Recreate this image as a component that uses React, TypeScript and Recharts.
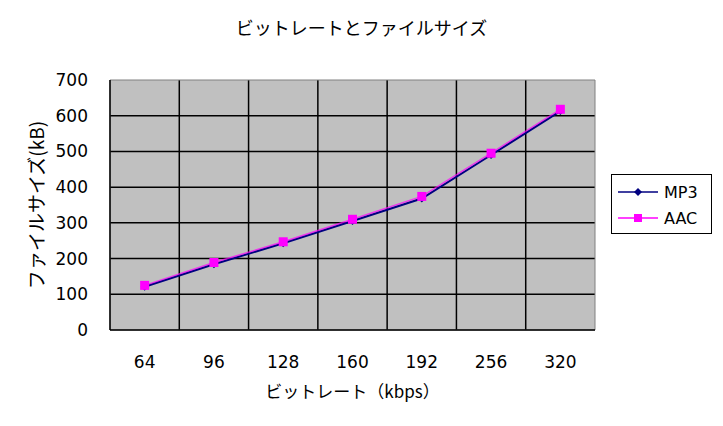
import React from "react";
import {
  LineChart,
  Line,
  XAxis,
  YAxis,
  CartesianGrid,
  ReferenceArea,
} from "recharts";

const bitrates = ["64", "96", "128", "160", "192", "256", "320"];
const mp3Sizes = [121, 184, 243, 305, 368, 490, 613];
const aacSizes = [125, 189, 247, 310, 374, 495, 618];
const yTicks = [0, 100, 200, 300, 400, 500, 600, 700];

const data = bitrates.map((label, i) => ({
  idx: i,
  label,
  mp3: mp3Sizes[i],
  aac: aacSizes[i],
}));

const jp = '"Noto Sans CJK JP", "DejaVu Sans", sans-serif';
const num = '"DejaVu Sans", sans-serif';

const MP3_COLOR = "#000080";
const AAC_COLOR = "#FF00FF";

const Diamond = (props: any) => {
  const { cx, cy } = props;
  if (cx == null || cy == null) return null;
  const r = 4;
  return (
    <path
      d={`M${cx},${cy - r} L${cx + r},${cy} L${cx},${cy + r} L${cx - r},${cy} Z`}
      fill={MP3_COLOR}
    />
  );
};

const Square = (props: any) => {
  const { cx, cy } = props;
  if (cx == null || cy == null) return null;
  return <rect x={cx - 4.5} y={cy - 4.5} width={9} height={9} fill={AAC_COLOR} />;
};

const LegendBox = () => (
  <div
    style={{
      position: "absolute",
      left: 611,
      top: 174,
      border: "1px solid #000",
      background: "#fff",
      width: 101,
      height: 60,
      boxSizing: "border-box",
      padding: "4px 0 0 6px",
      fontFamily: num,
      fontSize: 16,
      color: "#000",
    }}
  >
    {[
      { name: "MP3", color: MP3_COLOR, shape: "d" },
      { name: "AAC", color: AAC_COLOR, shape: "s" },
    ].map((it) => (
      <div key={it.name} style={{ display: "flex", alignItems: "center", height: 26 }}>
        <svg width={42} height={12}>
          <line x1={0} y1={6} x2={40} y2={6} stroke={it.color} strokeWidth={1.5} />
          {it.shape === "d" ? (
            <path d="M20,2 L24,6 L20,10 L16,6 Z" fill={it.color} />
          ) : (
            <rect x={16} y={2} width={8} height={8} fill={it.color} />
          )}
        </svg>
        <span style={{ marginLeft: 4 }}>{it.name}</span>
      </div>
    ))}
  </div>
);

export default function App() {
  return (
    <div style={{ position: "absolute", left: 0, top: 0, width: 723, height: 426, background: "#fff" }}>
      <div
        style={{
          position: "absolute",
          top: 14,
          left: 0,
          width: 723,
          textAlign: "center",
          fontFamily: jp,
          fontSize: 18,
          color: "#000",
          zIndex: 1,
        }}
      >
        ビットレートとファイルサイズ
      </div>
      <LineChart
        width={723}
        height={426}
        data={data}
        margin={{ top: 80, right: 128, bottom: 0, left: 0 }}
      >
        <CartesianGrid
          fill="#C0C0C0"
          stroke="#000"
          strokeWidth={1.5}
          horizontalValues={[100, 200, 300, 400, 500, 600]}
          verticalValues={[0.5, 1.5, 2.5, 3.5, 4.5, 5.5]}
        />
        <ReferenceArea x1={-0.5} x2={6.5} y1={0} y2={700} fill="none" stroke="#808080" />
        <XAxis
          type="number"
          dataKey="idx"
          domain={[-0.5, 6.5]}
          ticks={[0, 1, 2, 3, 4, 5, 6]}
          tickFormatter={(v: number) => bitrates[v]}
          height={96}
          tickLine={false}
          axisLine={{ stroke: "#000", strokeWidth: 1.5 }}
          tickMargin={20}
          tick={{ fill: "#000", fontSize: 17, fontFamily: num }}
          label={(p: any) => {
            const vb = p.viewBox;
            return (
              <text
                x={vb.x + vb.width / 2}
                y={vb.y + 60}
                textAnchor="middle"
                dominantBaseline="central"
                fontFamily={jp}
                fontSize={17}
                fill="#000"
              >
                ビットレート（kbps）
              </text>
            );
          }}
        />
        <YAxis
          type="number"
          domain={[0, 700]}
          ticks={yTicks}
          width={110}
          tickLine={false}
          axisLine={{ stroke: "#000", strokeWidth: 1.5 }}
          tickMargin={16}
          tick={{ fill: "#000", fontSize: 17, fontFamily: num }}
          label={(p: any) => {
            const vb = p.viewBox;
            const cx = vb.x + 35;
            const cy = vb.y + vb.height / 2;
            return (
              <text
                x={cx}
                y={cy}
                textAnchor="middle"
                dominantBaseline="central"
                transform={`rotate(-90, ${cx}, ${cy})`}
                fontFamily={jp}
                fontSize={19}
                fill="#000"
              >
                ファイルサイズ(kB)
              </text>
            );
          }}
        />
        <Line
          type="linear"
          dataKey="mp3"
          name="MP3"
          stroke={MP3_COLOR}
          strokeWidth={2}
          dot={<Diamond />}
          activeDot={false}
          isAnimationActive={false}
        />
        <Line
          type="linear"
          dataKey="aac"
          name="AAC"
          stroke={AAC_COLOR}
          strokeWidth={1.5}
          strokeOpacity={0.7}
          dot={<Square />}
          activeDot={false}
          isAnimationActive={false}
        />
      </LineChart>
      <LegendBox />
    </div>
  );
}
